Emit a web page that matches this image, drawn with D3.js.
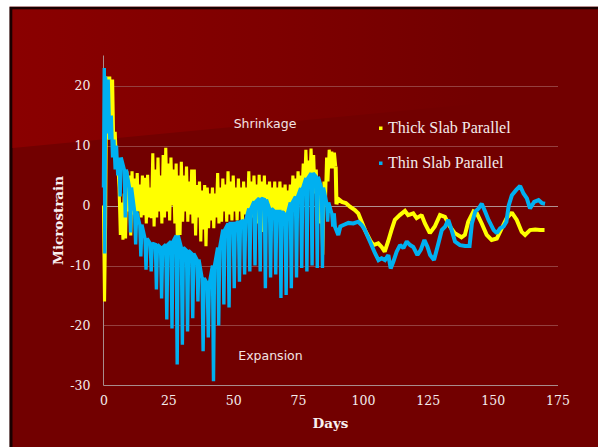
<!DOCTYPE html>
<html><head><meta charset="utf-8">
<script src="https://cdn.jsdelivr.net/npm/d3@7"></script>
<style>html,body{margin:0;padding:0;background:#fff;}svg{display:block;}</style>
</head><body>
<script>
// ---- data ----
const xTicks = [0, 25, 50, 75, 100, 125, 150, 175];
const yTicks = [-30, -20, -10, 0, 10, 20];
const seriesNames = ["Thick Slab Parallel", "Thin Slab Parallel"];
const seriesColors = ["#ffff00", "#00b0f0"];

// first days (steep settling)
const thickEarlyDays = [0, 0.4, 0.8, 1.2, 1.8, 2.4, 3, 3.5, 4, 4.5, 5, 5.5];
const thickEarlyVals = [0, -16, -3, 21.5, 11, 21.5, 12, 21, 8.4, 12.3, 6.8, 7];
const thinEarlyDays = [0, 0.3, 0.5, 0.8, 1.2, 1.8, 2.4, 3, 3.5, 4, 4.5, 5, 5.5];
const thinEarlyVals = [3, 22.9, -8, 21.5, 12, 21, 11, 15, 8, 11, 6, 10, 5];

// Thick slab: daily high / low from day 6 to day 89
const thickDailyStart = 6;
const thickDailyHigh = [3,0.5,2,5.7,5,5.7,4.5,5.4,3.5,5, 4.6,5.1,3,8.7,6,8,5,8.4,9.6,7, 8,6,7,5,7.3,5,6.5,4,6,6, 3.4,4,2.5,3.4,3,2,3,2,5.4,3, 4.5,3.5,5.7,4,5,3,4.5,3,4,3, 5.7,4,5,3.5,5.1,4,5,3.5,4,3, 4,3,4,3,3.5,2.5,3.5,5,4.5,5.7, 5,7,9.3,7.5,9.5,8.4,6,3,1,4, 8,9.3,9,8.8];
const thickDailyLow  = [-4.9,-5.7,-5.5,-1,-5,-1.5,-2,-1,-2,-1.6, -3,-2,-2.1,-3.5,-2,-1,-3,-2,-1,-2.5, 0,-3,-6.8,-4.9,-2.7,-1,-2.7,-1.5,-3,-5, -2,-6,-4,-6.8,-3.8,-2.5,-3.8,-2,-3,-2.7, -1,-2.7,-1.5,-2.5,-1,-2.5,-1,-2.7,-1.5,-2, -1,-2,-1,-3,-2.1,-4.4,-2,-1,-2.5,-1.5, -2.8,-1,-2,-1,-1.5,-0.5,-1,0.5,0.7,1, 2,2.9,3.5,3,4,2,0,-3,-8.2,0, 4,6.2,6.2,6.5];

// Thin slab: one downward swing every 2 days from day 6 to day 88
const thinCycleStart = 6, thinCycleStep = 2;
const thinCycleHigh  = [8,6,3,-1,-3.2,-5.5,-6.3,-6.5,-7,-6.5,-6,-5,-7,-7.5,-8,-9,-12.1,-13,-10,-7,-4,-3,-3,-2.7,-2.5,-0.5,0.7,1.2,1,-0.5,-1,-1,-1.5,0.5,1.5,2.9,4.6,5.4,4.8,3,0.5,-1.3];
const thinCycleLow   = [1.5,-2,-4.5,-6.5,-8.5,-10.7,-11,-14,-15.5,-19,-20.5,-26.5,-23.2,-21,-18.8,-16,-24.3,-22,-29.3,-20,-16.5,-17,-13.8,-12.7,-11.5,-11,-10,-11,-13.8,-12,-11.5,-15.4,-14.9,-13.8,-12,-10.4,-11,-10,-10.4,-10.4,-2.7,-3.5];

// smoother period after day ~89
const thickLateDays = [89.8,90.2,91.9,93.4,95,96.9,98.2,99.5,100.8,102.7,104,105.9,107.2,108.4,109.7,111,112.3,114.2,116.2,117.4,119.4,120.7,122.6,123.9,125.8,127.7,129.7,131.6,133.5,135.4,138,139.3,140.6,142.6,143.9,145.8,147.7,149.6,151.6,153.5,155.4,157.4,159.3,161.2,162.5,164.4,166.4,168.3,170];
const thickLateVals = [0.2,1.2,0.6,0.4,-0.2,-0.75,-1.3,-2.7,-4.1,-5.75,-6.6,-6.3,-6.9,-7.7,-6,-4.1,-2.4,-1.6,-0.9,-1.6,-1.3,-2.1,-1.6,-3,-4.6,-3.5,-1.6,-1.9,-3.5,-4.6,-5.3,-4.9,-2.7,-1,-1.3,-3,-4.9,-5.75,-5.5,-3.8,-2.1,-1.2,-2.4,-4.4,-4.9,-4.1,-4,-4.1,-4.1];
const thinLateDays = [89.2,90.5,91.3,92.5,94.4,96.3,98.2,99.5,100.8,102.7,104.7,106,107.2,108.5,109.8,110.7,111.7,113,114.3,115.6,116.9,118.2,119.4,121,122.3,123.7,124.9,125.9,127.4,129.1,130.4,131.7,132.9,134.2,135.5,137.4,139.4,141.1,142,143.3,144.6,145.8,147.1,148.4,150.4,151.6,152.9,154.2,155.3,156.2,157.4,159.1,160.6,161.9,163.2,164.4,166,167.7,169,170.2];
const thinLateVals = [-3.5,-4.9,-3.5,-3.25,-2.9,-3,-2.7,-3.25,-4.1,-6,-8,-9.1,-8.8,-9.1,-8.25,-10.5,-9.4,-7.7,-6.6,-7.1,-6,-6.6,-6.9,-8.25,-7.4,-5.75,-6.9,-8.25,-9.1,-6.3,-4.1,-3.5,-2.4,-4.1,-6,-6.6,-6.75,-6.75,-3,-1,-0.5,0.3,-1,-2.4,-4.1,-4.6,-3.8,-3.5,-2.7,0,1.7,2.6,3.25,2,1.2,-0.5,0.6,0.9,0.4,0.3];

// ---- build point lists ----
const thickDense = thickEarlyDays.map((d, i) => [d, thickEarlyVals[i]]);
thickDailyHigh.forEach((h, i) => {
  const t = thickDailyStart + i;
  thickDense.push([t, h], [t + 0.5, thickDailyLow[i]]);
});
const thickLate = [thickDense[thickDense.length - 1]].concat(thickLateDays.map((d, i) => [d, thickLateVals[i]]));

const thinDense = thinEarlyDays.map((d, i) => [d, thinEarlyVals[i]]);
thinCycleHigh.forEach((h, k) => {
  const t = thinCycleStart + k * thinCycleStep;
  thinDense.push([t, h], [t + 0.4, thinCycleLow[k]], [t + 0.8, h]);
});
const thinLate = [thinDense[thinDense.length - 1]].concat(thinLateDays.map((d, i) => [d, thinLateVals[i]]));

// ---- drawing ----
const W = 602, H = 447;
const svg = d3.select("body").append("svg").attr("width", W).attr("height", H);
const defs = svg.append("defs");
const g1 = defs.append("linearGradient").attr("id", "topg").attr("x1", "0").attr("x2", "1").attr("y1", "0").attr("y2", "0");
g1.append("stop").attr("offset", "0").attr("stop-color", "#8a0000");
g1.append("stop").attr("offset", "0.45").attr("stop-color", "#7e0000");
g1.append("stop").attr("offset", "0.8").attr("stop-color", "#720000");

svg.append("rect").attr("x", 0).attr("y", 0).attr("width", W).attr("height", H).attr("fill", "#fff");
svg.append("rect").attr("x", 9.5).attr("y", 6).attr("width", 588.5).attr("height", H - 6).attr("fill", "#b89090");
svg.append("rect").attr("x", 9.5).attr("y", 7).attr("width", 588.5).attr("height", H - 7).attr("fill", "#1a0000");
svg.append("rect").attr("x", 12.5).attr("y", 9.5).attr("width", 585.5).attr("height", H - 9.5).attr("fill", "#720000");
svg.append("path").attr("d", "M12.5,9.5 L598,9.5 L598,92 L12.5,148 Z").attr("fill", "url(#topg)");

const x = d3.scaleLinear().domain([0, 175]).range([103.5, 557.5]);
const y = d3.scaleLinear().domain([-30, 25]).range([385.5, 55.5]);

// gridlines
svg.append("g").selectAll("line").data(yTicks.filter(t => t !== -30)).join("line")
  .attr("x1", x(0)).attr("x2", x(175) + 0.5)
  .attr("y1", d => Math.round(y(d)) + 0.5).attr("y2", d => Math.round(y(d)) + 0.5)
  .attr("stroke", d => d === 0 ? "#b09090" : "#94403f").attr("stroke-width", 1);

// axes
const fmt = d => String(d);
const yAxis = d3.axisLeft(y).tickValues(yTicks).tickSize(0).tickPadding(13).tickFormat(fmt);
const xAxis = d3.axisBottom(x).tickValues(xTicks).tickSize(0).tickPadding(11).tickFormat(fmt);
const ya = svg.append("g").attr("transform", "translate(103.5,0)").call(yAxis);
const xa = svg.append("g").attr("transform", "translate(0,385.5)").call(xAxis);
[ya, xa].forEach(a => {
  a.select(".domain").attr("stroke", "#a88c8c").attr("stroke-width", 1);
  a.selectAll("text").attr("fill", "#f4ecec").attr("font-family", "DejaVu Serif").attr("font-size", "12.5px");
});
ya.select(".domain").attr("d", `M0,${y(25)}V${y(-30)}`);
xa.select(".domain").attr("d", `M${x(0)},0H${x(175) + 0.5}`);

// series
const line = d3.line().x(d => x(d[0])).y(d => y(d[1]));
const parts = [
  [thickDense, 0, 3.1], [thickLate, 0, 4],
  [thinDense, 1, 3.4], [thinLate, 1, 4]
];
parts.forEach(([s, i, w]) => {
  svg.append("path").datum(s).attr("d", line).attr("fill", "none")
    .attr("stroke", seriesColors[i]).attr("stroke-width", w)
    .attr("stroke-linejoin", "miter").attr("stroke-miterlimit", 1.5);
});

// axis titles
svg.append("text").attr("x", (x(0) + x(175)) / 2).attr("y", 428).attr("text-anchor", "middle")
  .attr("font-family", "DejaVu Serif").attr("font-weight", "bold").attr("font-size", "13.5px").attr("fill", "#f8f0f0").text("Days");
svg.append("text").attr("transform", `translate(63,${(y(25) + y(-30)) / 2}) rotate(-90)`).attr("text-anchor", "middle")
  .attr("font-family", "DejaVu Serif").attr("font-weight", "bold").attr("font-size", "13.5px").attr("fill", "#f8f0f0").text("Microstrain");

// annotations
svg.append("text").attr("x", 265).attr("y", 127.5).attr("text-anchor", "middle")
  .attr("font-family", "DejaVu Sans").attr("font-size", "12.5px").attr("fill", "#f2e4e4").text("Shrinkage");
svg.append("text").attr("x", 270.5).attr("y", 360).attr("text-anchor", "middle")
  .attr("font-family", "DejaVu Sans").attr("font-size", "12.5px").attr("fill", "#f2e4e4").text("Expansion");

// legend
const lg = svg.append("g");
seriesNames.forEach((n, i) => {
  const yy = 133 + i * 35;
  lg.append("rect").attr("x", 379).attr("y", yy - 6.5).attr("width", 3.5).attr("height", 3.5).attr("fill", seriesColors[i]);
  lg.append("text").attr("x", 388).attr("y", yy).attr("font-family", "Liberation Serif").attr("font-size", "16px")
    .attr("fill", "#f4ecec").text(n);
});
</script>
</body></html>
